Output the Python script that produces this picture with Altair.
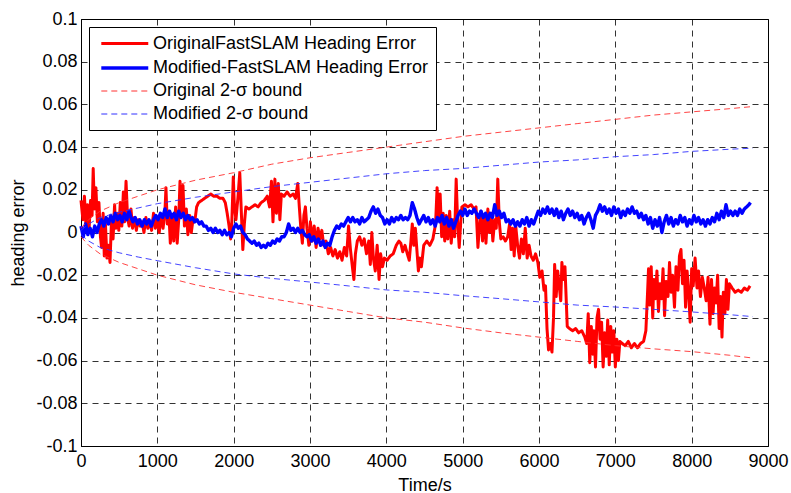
import altair as alt
import pandas as pd

# ---------------- data ----------------
names = ["OriginalFastSLAM Heading Error", "Modified-FastSLAM Heading Error",
         "Original 2-σ bound", "Modified 2-σ bound"]

orig_t = [0, 25, 45, 65, 85, 105, 125, 145, 160, 175, 195, 215, 235, 255, 270, 290, 305, 320, 340, 360,
          380, 400, 420, 440, 455, 475, 495, 515, 535, 555, 570, 590, 610, 630, 655, 675, 700, 725, 750, 775,
          800, 825, 850, 875, 900, 925, 950, 975, 1000, 1025, 1050, 1075, 1100, 1113, 1130, 1150, 1170, 1195,
          1215, 1240, 1260, 1280, 1297, 1315, 1336, 1355, 1380, 1400, 1425, 1445, 1467, 1490, 1515, 1540,
          1580, 1620, 1660, 1700, 1740, 1780, 1820, 1860, 1890, 1915, 1940, 1960, 1975, 1995, 2010, 2030,
          2055, 2080, 2100, 2120, 2140, 2160, 2200, 2240, 2280, 2320, 2360, 2400, 2440, 2470, 2495, 2515,
          2540, 2560, 2585, 2605, 2625, 2660, 2700, 2740, 2780, 2810, 2840, 2860, 2880, 2900, 2920, 2940,
          2960, 2985, 3005, 3030, 3055, 3080, 3105, 3130, 3155, 3180, 3210, 3240, 3270, 3300, 3330, 3360,
          3390, 3420, 3450, 3480, 3505, 3530, 3555, 3575, 3595, 3620, 3650, 3680, 3710, 3740, 3770, 3790,
          3810, 3830, 3855, 3880, 3905, 3925, 3950, 3975, 4010, 4050, 4090, 4130, 4165, 4190, 4215, 4245,
          4275, 4300, 4320, 4340, 4360, 4380, 4400, 4420, 4440, 4460, 4490, 4530, 4570, 4610, 4645, 4665,
          4685, 4705, 4725, 4745, 4765, 4785, 4805, 4830, 4850, 4875, 4895, 4915, 4935, 4955, 4975, 4990,
          5030, 5070, 5110, 5150, 5175, 5200, 5220, 5240, 5260, 5285, 5305, 5330, 5350, 5375, 5395, 5420,
          5440, 5460, 5480, 5500, 5530, 5560, 5590, 5615, 5635, 5655, 5675, 5695, 5720, 5745, 5770, 5795,
          5820, 5845, 5870, 5895, 5925, 5955, 5985, 6010, 6040, 6065, 6085, 6105, 6125, 6150, 6170, 6190,
          6205, 6225, 6245, 6265, 6285, 6300, 6320, 6340, 6355, 6370, 6400, 6440, 6480, 6520, 6560, 6600,
          6625, 6645, 6665, 6685, 6705, 6720, 6740, 6760, 6780, 6800, 6820, 6840, 6860, 6880, 6900, 6920,
          6940, 6960, 6980, 7000, 7020, 7040, 7060, 7090, 7130, 7170, 7210, 7250, 7290, 7330, 7370, 7400,
          7420, 7435, 7450, 7470, 7490, 7505, 7525, 7545, 7565, 7585, 7605, 7625, 7645, 7665, 7690, 7710,
          7730, 7750, 7775, 7795, 7820, 7840, 7860, 7880, 7900, 7920, 7940, 7960, 7980, 8000, 8020, 8045,
          8070, 8090, 8115, 8140, 8165, 8190, 8215, 8240, 8260, 8280, 8300, 8320, 8340, 8360, 8380, 8397,
          8415, 8435, 8455, 8475, 8495, 8530, 8570, 8610, 8650, 8690, 8730, 8765]
orig_v = [0.015, 0.006, 0.017, 0.003, 0.013, 0.001, 0.015, 0.008, 0.030, 0.011, 0.021, 0.005, 0.014, -0.002,
          -0.007, 0.009, -0.011, 0.004, -0.012, -0.006, -0.014, 0.006, -0.003, 0.013, 0.002, 0.009, 0.001,
          0.014, 0.003, 0.019, 0.005, 0.024, 0.007, 0.003, 0.011, 0.002, 0.007, 0.001, 0.006, 0.003, 0.005,
          0.000, 0.007, 0.002, 0.005, 0.001, 0.009, 0.002, 0.006, 0.000, 0.008, 0.002, 0.010, 0.021, 0.004,
          0.010, -0.005, 0.007, -0.004, 0.012, -0.005, 0.006, 0.024, 0.008, 0.022, 0.003, 0.011, -0.001,
          0.008, 0.000, 0.006, 0.005, 0.012, 0.014, 0.015, 0.016, 0.017, 0.018, 0.017, 0.017, 0.016, 0.016,
          0.014, 0.009, 0.003, -0.003, 0.004, 0.026, 0.012, 0.006, 0.016, 0.028, 0.010, -0.008, 0.004, 0.012,
          0.011, 0.012, 0.013, 0.012, 0.014, 0.015, 0.017, 0.012, 0.024, 0.005, 0.025, 0.009, 0.023, 0.006,
          0.018, 0.017, 0.019, 0.017, 0.018, 0.016, 0.023, 0.012, 0.002, -0.005, 0.008, 0.012, 0.002, -0.006,
          0.005, -0.004, 0.003, -0.007, 0.002, -0.003, 0.001, -0.006, -0.004, -0.010, -0.007, -0.011, -0.008,
          -0.012, -0.009, -0.013, -0.007, -0.011, 0.003, -0.008, -0.016, -0.022, -0.010, -0.004, -0.002,
          -0.006, -0.003, -0.010, -0.004, -0.015, 0.000, -0.012, -0.018, -0.006, -0.022, -0.010, -0.016,
          -0.012, -0.013, -0.011, -0.010, -0.006, -0.004, -0.005, -0.009, -0.006, -0.010, -0.013, -0.005,
          0.004, -0.006, 0.002, -0.008, -0.018, -0.012, -0.016, -0.006, -0.004, -0.006, -0.003, 0.004, 0.021,
          0.006, 0.018, -0.002, 0.009, -0.004, 0.008, -0.003, 0.010, -0.005, 0.006, -0.002, 0.025, 0.004,
          -0.007, 0.005, 0.012, 0.013, 0.012, 0.013, 0.011, 0.012, -0.007, 0.003, 0.010, -0.004, 0.008, -0.005,
          0.011, 0.000, 0.009, -0.004, 0.006, 0.002, 0.025, 0.005, -0.003, -0.002, -0.004, -0.002, 0.004,
          -0.008, 0.002, -0.011, 0.003, -0.006, -0.012, -0.003, -0.010, 0.002, -0.012, -0.006, -0.011, -0.013,
          -0.010, -0.014, -0.021, -0.018, -0.027, -0.025, -0.045, -0.055, -0.052, -0.056, -0.040, -0.015,
          -0.030, -0.018, -0.025, -0.032, -0.014, -0.022, -0.016, -0.030, -0.044, -0.045, -0.046, -0.045,
          -0.047, -0.046, -0.049, -0.052, -0.038, -0.061, -0.044, -0.057, -0.046, -0.063, -0.040, -0.036,
          -0.050, -0.042, -0.063, -0.047, -0.058, -0.041, -0.062, -0.044, -0.056, -0.046, -0.063, -0.050,
          -0.060, -0.051, -0.052, -0.053, -0.051, -0.054, -0.052, -0.054, -0.052, -0.051, -0.046, -0.030,
          -0.017, -0.034, -0.016, -0.040, -0.022, -0.031, -0.018, -0.037, -0.024, -0.031, -0.017, -0.039,
          -0.023, -0.030, -0.014, -0.028, -0.020, -0.035, -0.016, -0.027, -0.011, -0.008, -0.024, -0.013,
          -0.035, -0.018, -0.028, -0.042, -0.017, -0.025, -0.012, -0.026, -0.018, -0.030, -0.021, -0.026,
          -0.032, -0.021, -0.043, -0.022, -0.038, -0.026, -0.033, -0.020, -0.045, -0.030, -0.049, -0.028,
          -0.038, -0.022, -0.036, -0.024, -0.026, -0.028, -0.027, -0.028, -0.026, -0.027, -0.025]

mod_t = [0, 30, 60, 90, 120, 150, 180, 210, 240, 270, 300, 330, 360, 390, 420, 450, 480, 510, 540, 570,
         600, 630, 655, 680, 710, 740, 770, 800, 830, 860, 890, 920, 950, 980, 1010, 1040, 1070, 1100, 1130,
         1160, 1190, 1220, 1250, 1280, 1310, 1340, 1370, 1400, 1430, 1460, 1490, 1520, 1550, 1580, 1610,
         1640, 1670, 1700, 1730, 1760, 1790, 1820, 1850, 1880, 1910, 1940, 1970, 2000, 2030, 2060, 2090,
         2120, 2150, 2180, 2210, 2240, 2270, 2300, 2330, 2360, 2390, 2420, 2450, 2480, 2510, 2540, 2570,
         2600, 2630, 2660, 2690, 2720, 2750, 2780, 2810, 2840, 2870, 2900, 2930, 2960, 2990, 3020, 3050,
         3080, 3110, 3140, 3170, 3200, 3230, 3260, 3290, 3320, 3350, 3380, 3410, 3440, 3470, 3500, 3530,
         3560, 3590, 3620, 3650, 3680, 3710, 3740, 3770, 3800, 3830, 3860, 3890, 3920, 3950, 3980, 4010,
         4040, 4070, 4100, 4130, 4160, 4190, 4220, 4250, 4280, 4310, 4340, 4370, 4400, 4430, 4460, 4490,
         4520, 4550, 4580, 4610, 4640, 4670, 4700, 4730, 4760, 4790, 4820, 4850, 4880, 4910, 4940, 4970,
         5000, 5030, 5060, 5090, 5120, 5150, 5180, 5210, 5240, 5270, 5300, 5330, 5360, 5390, 5420, 5450,
         5480, 5510, 5540, 5570, 5600, 5630, 5660, 5690, 5720, 5750, 5780, 5810, 5840, 5870, 5900, 5930,
         5960, 5990, 6020, 6050, 6080, 6110, 6140, 6170, 6200, 6230, 6260, 6290, 6320, 6350, 6380, 6410,
         6440, 6470, 6500, 6530, 6560, 6590, 6620, 6650, 6680, 6710, 6740, 6770, 6800, 6830, 6860, 6890,
         6920, 6950, 6980, 7010, 7040, 7070, 7100, 7130, 7160, 7190, 7220, 7250, 7280, 7310, 7340, 7370,
         7400, 7430, 7460, 7490, 7520, 7550, 7580, 7610, 7640, 7670, 7700, 7730, 7760, 7790, 7820, 7850,
         7880, 7910, 7940, 7970, 8000, 8030, 8060, 8090, 8120, 8150, 8180, 8210, 8240, 8270, 8300, 8330,
         8360, 8390, 8420, 8450, 8480, 8510, 8540, 8570, 8600, 8630, 8660, 8690, 8720, 8750, 8770]
mod_v = [0.003, -0.002, 0.004, -0.001, 0.002, -0.002, 0.003, 0.000, 0.004, 0.006, 0.003, 0.007, 0.004,
         0.008, 0.005, 0.009, 0.006, 0.008, 0.005, 0.009, 0.006, 0.010, 0.007, 0.005, 0.007, 0.004, 0.006,
         0.003, 0.006, 0.004, 0.006, 0.003, 0.006, 0.008, 0.006, 0.009, 0.007, 0.011, 0.007, 0.010, 0.007,
         0.009, 0.006, 0.010, 0.007, 0.009, 0.006, 0.008, 0.006, 0.007, 0.005, 0.006, 0.004, 0.005, 0.003,
         0.003, 0.001, 0.002, 0.000, 0.002, 0.000, 0.001, -0.001, 0.001, -0.001, 0.000, -0.002, 0.002, 0.004,
         0.002, 0.003, 0.000, -0.001, -0.003, -0.004, -0.005, -0.004, -0.006, -0.005, -0.007, -0.006, -0.007,
         -0.005, -0.006, -0.004, -0.005, -0.003, -0.004, -0.002, -0.002, 0.000, 0.004, 0.001, 0.002, 0.000,
         0.002, 0.000, 0.001, -0.001, -0.002, -0.001, -0.004, -0.002, -0.005, -0.003, -0.006, -0.004, -0.007,
         -0.005, -0.006, -0.002, 0.001, 0.003, 0.002, 0.004, 0.003, 0.005, 0.007, 0.005, 0.007, 0.005, 0.006,
         0.004, 0.007, 0.005, 0.006, 0.007, 0.010, 0.012, 0.009, 0.011, 0.008, 0.007, 0.004, 0.006, 0.004,
         0.007, 0.005, 0.007, 0.006, 0.008, 0.006, 0.007, 0.006, 0.008, 0.014, 0.011, 0.007, 0.004, 0.006,
         0.008, 0.005, 0.007, 0.004, 0.006, 0.003, 0.007, 0.005, 0.008, 0.004, 0.007, 0.003, 0.006, 0.002,
         0.005, 0.008, 0.010, 0.008, 0.011, 0.008, 0.010, 0.009, 0.011, 0.009, 0.007, 0.010, 0.007, 0.009,
         0.006, 0.009, 0.007, 0.013, 0.008, 0.010, 0.007, 0.009, 0.005, 0.006, 0.004, 0.006, 0.003, 0.005,
         0.003, 0.006, 0.004, 0.007, 0.003, 0.006, 0.004, 0.007, 0.010, 0.008, 0.011, 0.009, 0.012, 0.009,
         0.011, 0.008, 0.011, 0.007, 0.010, 0.006, 0.009, 0.011, 0.008, 0.010, 0.007, 0.009, 0.006, 0.008,
         0.004, 0.007, 0.009, 0.006, 0.002, 0.008, 0.010, 0.013, 0.010, 0.012, 0.009, 0.011, 0.008, 0.012,
         0.009, 0.011, 0.007, 0.010, 0.008, 0.011, 0.009, 0.012, 0.009, 0.010, 0.007, 0.009, 0.006, 0.008,
         0.004, 0.007, 0.002, 0.006, 0.003, 0.007, 0.000, 0.005, 0.008, 0.004, 0.007, 0.003, 0.006, 0.004,
         0.008, 0.005, 0.007, 0.003, 0.006, 0.004, 0.008, 0.005, 0.007, 0.004, 0.006, 0.003, 0.006, 0.004,
         0.007, 0.005, 0.009, 0.006, 0.010, 0.007, 0.013, 0.008, 0.010, 0.008, 0.010, 0.008, 0.011, 0.009,
         0.011, 0.012, 0.013, 0.014]

bound_t = [0, 100, 250, 500, 750, 1000, 1500, 2000, 2500, 3000, 3500, 4000, 4500, 5000, 5500, 6000,
           6500, 7000, 7500, 8000, 8500, 8800]
orig_upper = [0.002, 0.006, 0.010, 0.014, 0.017, 0.020, 0.0245, 0.028, 0.032, 0.035, 0.0375, 0.040,
              0.0425, 0.045, 0.047, 0.049, 0.051, 0.053, 0.055, 0.0565, 0.058, 0.059]
orig_lower = [-0.002, -0.006, -0.010, -0.014, -0.017, -0.020, -0.0245, -0.028, -0.031, -0.034, -0.037,
              -0.040, -0.042, -0.0447, -0.047, -0.049, -0.051, -0.053, -0.0545, -0.0558, -0.0575, -0.0588]
mod_upper = [0.001, 0.004, 0.007, 0.0095, 0.0115, 0.0135, 0.0165, 0.019, 0.0215, 0.0235, 0.0255, 0.0275,
             0.029, 0.030, 0.0315, 0.033, 0.034, 0.0355, 0.0365, 0.038, 0.039, 0.0395]
mod_lower = [-0.001, -0.004, -0.007, -0.0095, -0.0115, -0.0132, -0.0165, -0.0194, -0.0215, -0.0232,
             -0.025, -0.0269, -0.028, -0.0296, -0.031, -0.0325, -0.034, -0.0349, -0.036, -0.0372, -0.0385,
             -0.0394]

x_ticks = [0, 1000, 2000, 3000, 4000, 5000, 6000, 7000, 8000, 9000]
y_ticks = [-0.1, -0.08, -0.06, -0.04, -0.02, 0, 0.02, 0.04, 0.06, 0.08, 0.1]

colors = ["#ff0000", "#0000ff", "#ff3030", "#3030ff"]
dashes = [[1, 0], [1, 0], [6, 4], [6, 4]]
widths = [3, 3.4, 1, 1]

# ---------------- long table ----------------
rows = []
for t, v in zip(orig_t, orig_v):
    rows.append((names[0], "a", t, v))
for t, v in zip(mod_t, mod_v):
    rows.append((names[1], "a", t, v))
for t, u, l in zip(bound_t, orig_upper, orig_lower):
    rows.append((names[2], "up", t, u))
    rows.append((names[2], "lo", t, l))
for t, u, l in zip(bound_t, mod_upper, mod_lower):
    rows.append((names[3], "up", t, u))
    rows.append((names[3], "lo", t, l))
df = pd.DataFrame(rows, columns=["series", "part", "t", "v"])

FONT = "Liberation Sans"

legend = alt.Legend(
    title=None, orient="none", legendX=8, legendY=8,
    symbolType="M-0.6,0H5.4", symbolSize=245, labelOffset=37,
    labelFontSize=18, labelFont=FONT, labelColor="black", labelLimit=0,
    rowPadding=5, padding=7, strokeColor="black", fillColor="white",
)

enc = dict(
    x=alt.X("t:Q", scale=alt.Scale(domain=[0, 9000], nice=False),
            axis=alt.Axis(values=x_ticks, format="d", title="Time/s", labelPadding=6,
                          labelFlush=False, labelOverlap=False,
                          titleY=30, titleBaseline="top")),
    y=alt.Y("v:Q", scale=alt.Scale(domain=[-0.1, 0.1], nice=False),
            axis=alt.Axis(values=y_ticks, title="heading error", labelPadding=4,
                          labelFlush=False, labelOverlap=False,
                          labelExpr="datum.value == 0 ? '0' : toString(round(datum.value*100)/100)",
                          titleX=-58, titleY=213.5, titleAngle=-90, titleAlign="center",
                          titleBaseline="alphabetic")),
    color=alt.Color("series:N", scale=alt.Scale(domain=names, range=colors), legend=legend),
    strokeDash=alt.StrokeDash("series:N", scale=alt.Scale(domain=names, range=dashes), legend=legend),
    strokeWidth=alt.StrokeWidth("series:N", scale=alt.Scale(type="ordinal", domain=names, range=widths),
                                legend=legend),
    detail="part:N",
    order="t:Q",
)

layers = []
for i, n in enumerate(names):
    layers.append(
        alt.Chart(df).transform_filter(alt.datum.series == n)
        .mark_line(opacity=1 if i < 2 else 0.9, strokeJoin="round")
        .encode(**enc)
    )

chart = alt.layer(*layers).properties(
    width=687, height=427,
    autosize=alt.AutoSizeParams(type="none"),
    padding={"left": 81, "top": 19, "right": 23, "bottom": 47},
    background="white",
).configure_view(stroke="black", strokeWidth=1).configure_axis(
    grid=True, gridColor="#000000", gridDash=[6, 5], gridWidth=1, gridOpacity=0.8,
    domainColor="black", domainWidth=1, ticks=False, tickSize=0,
    labelFont=FONT, labelFontSize=18, labelColor="black",
    titleFont=FONT, titleFontSize=18, titleColor="black", titleFontWeight="normal",
)

chart.save("out.html", embed_options={"renderer": "svg", "actions": False})
